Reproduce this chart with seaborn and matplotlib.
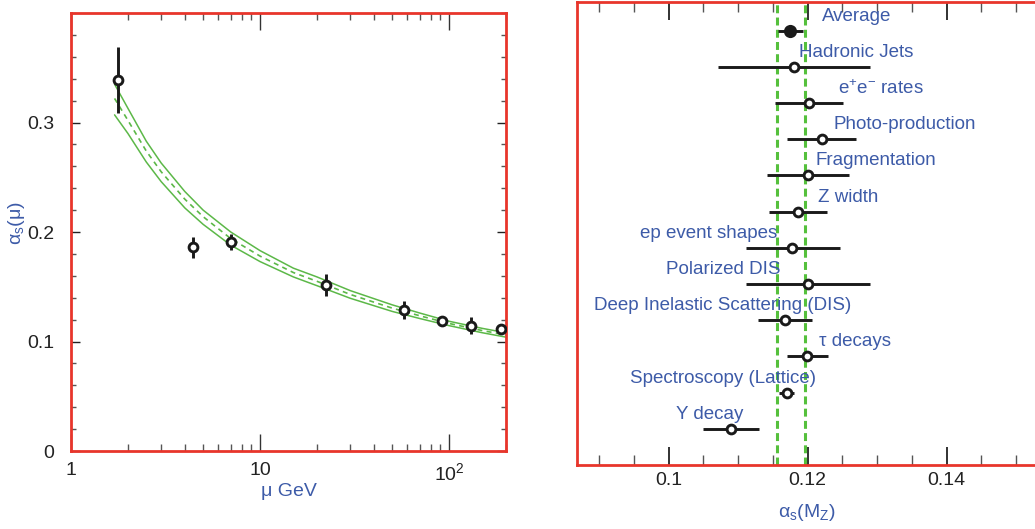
import numpy as np
import pandas as pd
import seaborn as sns
import matplotlib.pyplot as plt
import matplotlib.ticker as mticker

sns.set_style('ticks')
plt.rcParams['font.family'] = ['Liberation Sans', 'DejaVu Sans']
plt.rcParams['mathtext.fontset'] = 'custom'
plt.rcParams['mathtext.rm'] = 'Liberation Sans'
plt.rcParams['mathtext.it'] = 'Liberation Sans'
plt.rcParams['mathtext.default'] = 'rm'

# left panel: alpha_s(mu) measurements
mu_pts = [1.78, 4.4, 7.0, 22.2, 57.7, 91.2, 130.6, 187.5]
as_pts = [0.339, 0.186, 0.191, 0.1513, 0.129, 0.119, 0.1143, 0.111]
as_err = [0.030, 0.0097, 0.007, 0.010, 0.008, 0.003, 0.0077, 0.003]

# QCD band
mu_grid = [1.7, 2, 2.5, 3, 4, 5, 7, 10, 15, 20, 30, 50, 70, 100, 150, 200]
band_mid = [0.322, 0.302, 0.274, 0.255, 0.230, 0.214, 0.194, 0.178, 0.163, 0.155,
            0.143, 0.1305, 0.1235, 0.1165, 0.110, 0.106]
band_up = [0.335, 0.313, 0.283, 0.263, 0.237, 0.220, 0.200, 0.183, 0.167, 0.159,
           0.1465, 0.1335, 0.126, 0.1185, 0.112, 0.108]
band_lo = [0.307, 0.290, 0.264, 0.246, 0.222, 0.207, 0.188, 0.173, 0.159, 0.151,
           0.1395, 0.1275, 0.121, 0.1145, 0.108, 0.104]

# right panel: alpha_s(M_Z) by method
methods = ['Average', 'Hadronic Jets', r'e$^{+}$e$^{-}$ rates', 'Photo-production',
           'Fragmentation', 'Z width', 'ep event shapes', 'Polarized DIS',
           'Deep Inelastic Scattering (DIS)', 'τ decays', 'Spectroscopy (Lattice)', 'Υ decay']
as_mz = [0.1175, 0.1180, 0.1202, 0.1220, 0.1200, 0.1186, 0.1178, 0.1200, 0.1167, 0.1199, 0.1170, 0.1090]
as_mz_lo = [0.1158, 0.1071, 0.1153, 0.1170, 0.1141, 0.1145, 0.1111, 0.1111, 0.1128, 0.1170, 0.1159, 0.1050]
as_mz_hi = [0.1194, 0.1290, 0.1251, 0.1270, 0.1259, 0.1228, 0.1246, 0.1290, 0.1207, 0.1230, 0.1181, 0.1130]
avg_band = [0.1156, 0.1196]

# where each method name sits (left edge, in alpha_s units)
label_x = [0.1220, 0.1187, 0.1243, 0.1237, 0.1212, 0.1215, 0.0959, 0.0997, 0.0893, 0.1217, 0.0944, 0.1011]

red = '#e8352b'
blue = '#3d5ba8'
green = '#5cb848'
vgreen = '#55c03c'
ink = '#1a1a1a'

fig = plt.figure(figsize=(10.35, 5.29), dpi=100)
ax1 = fig.add_axes([0.0686, 0.1474, 0.4203, 0.828])
ax2 = fig.add_axes([0.5572, 0.121, 0.4583, 0.876])

# ---- left panel
ax1.set_xscale('log')
sns.lineplot(x=mu_grid, y=band_up, color=green, lw=1.1, ax=ax1)
sns.lineplot(x=mu_grid, y=band_lo, color=green, lw=1.1, ax=ax1)
sns.lineplot(x=mu_grid, y=band_mid, color=green, lw=1.2, ls=(0, (3, 2.6)), ax=ax1)
ax1.errorbar(mu_pts, as_pts, yerr=as_err, fmt='none', ecolor=ink, elinewidth=2.1, capsize=0, zorder=3)
sns.scatterplot(x=mu_pts, y=as_pts, s=40, facecolor='white', edgecolor=ink, linewidth=2.1, zorder=4, ax=ax1)

ax1.set_xlim(1, 200)
ax1.set_ylim(0, 0.4)
ax1.set_xticks([1, 10, 100])
ax1.set_xticklabels(['1', '10', r'10$^{2}$'])
ax1.xaxis.set_minor_locator(mticker.LogLocator(base=10, subs=np.arange(2, 10)))
ax1.xaxis.set_minor_formatter(mticker.NullFormatter())
ax1.set_yticks([0, 0.1, 0.2, 0.3])
ax1.set_yticklabels(['0', '0.1', '0.2', '0.3'])
ax1.yaxis.set_minor_locator(mticker.MultipleLocator(0.02))

ax1.tick_params(which='both', direction='in', top=True, right=True, labelcolor='#222222')
ax1.tick_params(axis='y', which='major', length=6.5, width=1.0, color='#222222', labelsize=14, pad=12)
ax1.tick_params(axis='y', which='minor', length=3.6, width=1.0, color='#555555')
ax1.tick_params(axis='x', which='major', length=12, width=1.0, color='#333333', labelsize=14, pad=8)
ax1.tick_params(axis='x', which='minor', length=5, width=1.0, color='#555555')

ax1.set_xlabel('μ GeV', color=blue, fontsize=14)
ax1.xaxis.set_label_coords(0.5, -0.074)
ax1.set_ylabel(r'$\alpha_s(\mu)$', color=blue, fontsize=14)
ax1.yaxis.set_label_coords(-0.1, 0.52)

# ---- right panel
rows = np.arange(len(methods))
for xv in avg_band:
    ax2.axvline(xv, color=vgreen, lw=2.2, ls=(0, (2.6, 1.4)), zorder=1)
xerr = [np.array(as_mz) - np.array(as_mz_lo), np.array(as_mz_hi) - np.array(as_mz)]
ax2.errorbar(as_mz, rows, xerr=xerr, fmt='none', ecolor=ink, elinewidth=2.1, capsize=0, zorder=3)
sns.scatterplot(x=as_mz[1:], y=rows[1:], s=40, facecolor='white', edgecolor=ink, linewidth=2.1, zorder=4, ax=ax2)
sns.scatterplot(x=as_mz[:1], y=rows[:1], s=90, color=ink, edgecolor=ink, linewidth=0, zorder=4, ax=ax2)

for r, name, lx in zip(rows, methods, label_x):
    ax2.text(lx, r - 0.4, name, color=blue, fontsize=13.5, ha='left', va='center')

ax2.set_xlim(0.0868, 0.155)
ax2.set_ylim(12, -0.8)
ax2.set_yticks([])
ax2.set_xticks([0.10, 0.12, 0.14])
ax2.set_xticklabels(['0.1', '0.12', '0.14'])
ax2.xaxis.set_minor_locator(mticker.MultipleLocator(0.005))
ax2.tick_params(which='both', direction='in', top=True, bottom=True, labelcolor='#222222')
ax2.tick_params(axis='x', which='major', length=13, width=1.3, color='#222222', labelsize=14, pad=5)
ax2.tick_params(axis='x', which='minor', length=7, width=1.0, color='#555555')
ax2.set_xlabel(r'$\alpha_s$(M$_Z$)', color=blue, fontsize=14)
ax2.xaxis.set_label_coords(0.485, -0.079)

for ax in (ax1, ax2):
    for sp in ax.spines.values():
        sp.set_visible(True)
        sp.set_color(red)
        sp.set_linewidth(2.0)
    ax.set_facecolor('white')

fig.savefig('out.png', dpi=100)
